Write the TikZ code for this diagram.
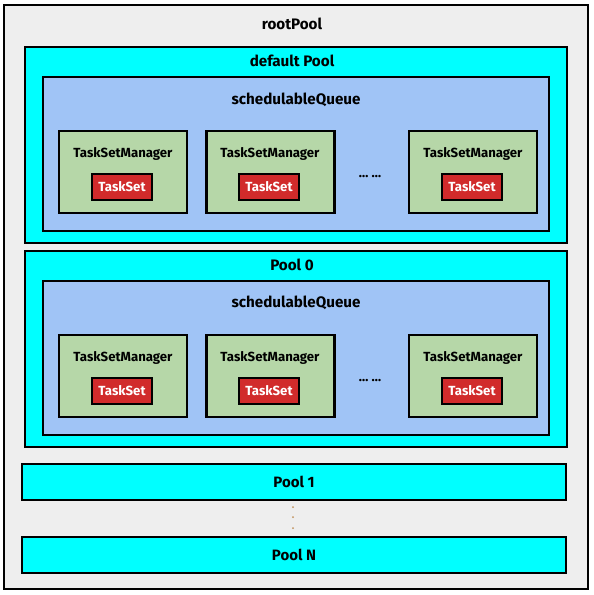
\documentclass[tikz,border=0pt]{standalone}
\usepackage{fontspec}
\setmainfont{Fira Sans}
\usetikzlibrary{positioning}
\definecolor{rootgray}{HTML}{EEEEEE}
\definecolor{poolcyan}{HTML}{00FFFF}
\definecolor{queueblue}{HTML}{A0C4F6}
\definecolor{managergreen}{HTML}{B6D7A8}
\definecolor{tasksetred}{HTML}{D12B2B}
\definecolor{dotbrown}{HTML}{C0905A}
\tikzset{
	container/.style={
		draw,
		rectangle,
		line width=1.2pt
	},
	rootbox/.style={container, fill=rootgray, line width=1pt, minimum width=292pt, minimum height=292pt},
	poolbox/.style={container, fill=poolcyan, minimum width=271pt, minimum height=98pt},
	slimpool/.style={container, fill=poolcyan, minimum width=272pt, minimum height=18pt, font=\bfseries\fontsize{7.5}{9}\selectfont},
	queuebox/.style={container, fill=queueblue, minimum width=253pt, minimum height=77pt},
	managerbox/.style={container, fill=managergreen, minimum width=64pt, minimum height=41pt},
	tasksetbox/.style={container, fill=tasksetred, text=white, minimum width=30pt, minimum height=13pt, inner sep=0pt, font=\bfseries\fontsize{6.6}{8}\selectfont},
	title/.style={inner sep=0pt, font=\bfseries\fontsize{7.6}{9}\selectfont},
	boxtitle/.style={inner sep=0pt, font=\bfseries\fontsize{6.6}{8}\selectfont}
}

\begin{document}
\begin{tikzpicture}[x=0.5pt, y=-0.5pt]
	\useasboundingbox (0,0) rectangle (594,595);
	\fill[white] (0,0) rectangle (594,595);

	\node[rootbox](Root) at (296,297){};
	\node[title](RootTitle) at (292,24){rootPool};

	% default Pool
	\node[poolbox](DefaultPool) at (296,145){};
	\node[title](DefaultTitle) at (292,61){default Pool};
	\node[queuebox](DefaultQueue) at (296,154){};
	\node[title](DefaultQueueTitle) at (296,100){schedulableQueue};
	\node[managerbox](DefaultMgrA) at (123,172){};
	\node[managerbox, right=8.5pt of DefaultMgrA](DefaultMgrB){};
	\node[managerbox](DefaultMgrC) at (473,172){};
	\node[boxtitle](DefaultMgrATitle) at (123,154){TaskSetManager};
	\node[boxtitle](DefaultMgrBTitle) at (270,154){TaskSetManager};
	\node[boxtitle](DefaultMgrCTitle) at (473,154){TaskSetManager};
	\node[tasksetbox](DefaultSetA) at (122,187){TaskSet};
	\node[tasksetbox](DefaultSetB) at (269,187){TaskSet};
	\node[tasksetbox](DefaultSetC) at (472,187){TaskSet};
	\node[boxtitle](DefaultDots) at (370,177){\dots\ \dots};

	% Pool 0
	\node[poolbox](PoolZero) at (296,349){};
	\node[title](PoolZeroTitle) at (292,265){Pool 0};
	\node[queuebox](ZeroQueue) at (296,358){};
	\node[title](ZeroQueueTitle) at (296,303){schedulableQueue};
	\node[managerbox](ZeroMgrA) at (123,376){};
	\node[managerbox, right=8.5pt of ZeroMgrA](ZeroMgrB){};
	\node[managerbox](ZeroMgrC) at (473,376){};
	\node[boxtitle](ZeroMgrATitle) at (123,358){TaskSetManager};
	\node[boxtitle](ZeroMgrBTitle) at (270,358){TaskSetManager};
	\node[boxtitle](ZeroMgrCTitle) at (473,358){TaskSetManager};
	\node[tasksetbox](ZeroSetA) at (122,391){TaskSet};
	\node[tasksetbox](ZeroSetB) at (269,391){TaskSet};
	\node[tasksetbox](ZeroSetC) at (472,391){TaskSet};
	\node[boxtitle](ZeroDots) at (370,381){\dots\ \dots};

	% Pool 1 ... Pool N
	\node[slimpool](PoolOne) at (294,482){Pool 1};
	\node[slimpool](PoolN) at (294,555){Pool N};
	\foreach \dy in {507,517,528}
		\fill[dotbrown] (293,\dy) circle (0.5pt);
\end{tikzpicture}
\end{document}
